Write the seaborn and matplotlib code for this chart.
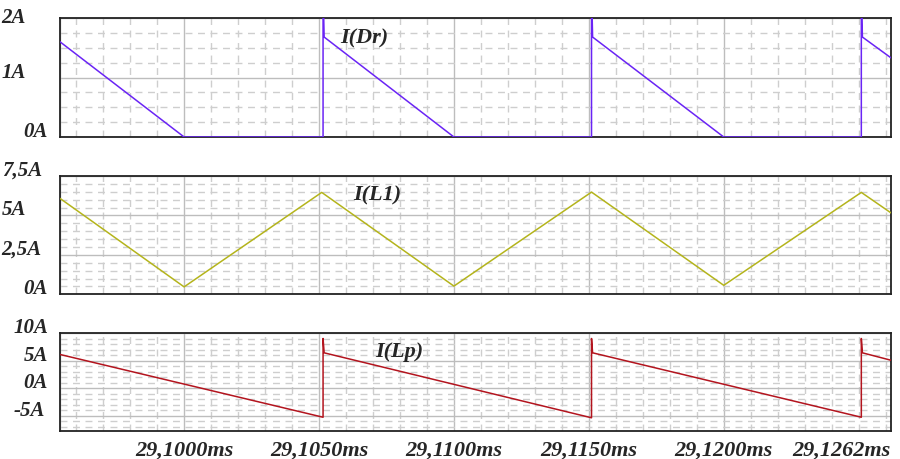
import matplotlib
matplotlib.use("Agg")
import matplotlib.pyplot as plt
from matplotlib.ticker import FixedLocator, MultipleLocator
import seaborn as sns

# ---- scope traces, breakpoints (time in ms, current in A) ----
t_dr = [29.0954, 29.1000, 29.10515, 29.10515, 29.10519, 29.1100, 29.1151, 29.1151,
        29.11514, 29.1200, 29.1251, 29.1251, 29.12514, 29.1262]
i_dr = [1.60, 0.0, 0.0, 2.5, 1.68, 0.0, 0.0, 2.5, 1.68, 0.0, 0.0, 2.5, 1.68, 1.33]

t_l1 = [29.0954, 29.1000, 29.1051, 29.1100, 29.1151, 29.1200, 29.1251, 29.1262]
i_l1 = [6.08, 0.47, 6.46, 0.52, 6.48, 0.57, 6.46, 5.16]

t_lp = [29.0954, 29.10515, 29.10515, 29.10519, 29.1151, 29.1151, 29.11514,
        29.1251, 29.1251, 29.12514, 29.1262]
i_lp = [6.1, -5.3, 9.0, 6.4, -5.4, 9.0, 6.4, -5.3, 9.0, 6.4, 5.05]

# axis ticks
x_ticks = [29.0954, 29.1000, 29.1050, 29.1100, 29.1150, 29.1200, 29.1262]
x_labels = ["", "29,1000ms", "29,1050ms", "29,1100ms", "29,1150ms", "29,1200ms", "29,1262ms"]

dr_ticks, dr_labels = [0, 1, 2], ["0A", "1A", "2A"]
l1_ticks, l1_labels = [0, 2.5, 5, 7.5], ["0A", "2,5A", "5A", "7,5A"]
lp_ticks, lp_labels = [-5, 0, 5, 10], ["-5A", "0A", "5A", "10A"]

sns.set_style("white")
plt.rcParams["font.family"] = ["Liberation Serif", "DejaVu Serif"]
plt.rcParams["font.weight"] = "bold"
plt.rcParams["font.style"] = "italic"

fig = plt.figure(figsize=(9, 4.59), dpi=100)

AX_L, AX_W = 60 / 900, 831 / 900


def style_axis(ax, ylim, yticks, ylabels, minor, label_left_px):
    ax.set_xlim(x_ticks[0], x_ticks[-1])
    ax.set_ylim(*ylim)
    ax.xaxis.set_major_locator(FixedLocator(x_ticks))
    ax.xaxis.set_minor_locator(MultipleLocator(0.001))
    ax.yaxis.set_major_locator(FixedLocator(yticks))
    ax.yaxis.set_minor_locator(MultipleLocator(minor))
    ax.set_yticklabels(ylabels)
    ax.set_axisbelow(True)
    ax.grid(which="major", color="#bdbdbd", lw=1.0, ls="-")
    ax.grid(which="minor", color="#cecece", lw=1.0, ls=(0, (5, 4)))
    ax.tick_params(which="minor", length=0)
    ax.tick_params(axis="y", which="major", direction="out", length=6, width=1,
                   color="#222222", pad=0, labelsize=15)
    # the scope puts its labels at uneven offsets from the frame
    for lab, px in zip(ax.get_yticklabels(), label_left_px):
        lab.set_ha("left")
        lab.set_va("baseline")
        lab.set_x((px - 60) / 831)
    for sp in ax.spines.values():
        sp.set_color("#222222")
        sp.set_linewidth(1.3)
    ax.set_xlabel("")
    ax.set_ylabel("")


# ---- I(Dr) ----
ax1 = fig.add_axes([AX_L, 1 - 137 / 459, AX_W, 119 / 459])
sns.lineplot(x=t_dr, y=i_dr, ax=ax1, color="#6a24f5", lw=1.1, sort=False, estimator=None, zorder=3)
style_axis(ax1, (0, 2), dr_ticks, dr_labels, 0.25, [32, 10, 10])
ax1.get_yticklabels()[-1].set_va("center")
ax1.tick_params(axis="x", length=0, labelbottom=False)
ax1.text(29.10578, 1.66, "I(Dr)", fontsize=16, va="center")

# ---- I(L1) ----
ax2 = fig.add_axes([AX_L, 1 - 294.3 / 459, AX_W, 118.3 / 459])
sns.lineplot(x=t_l1, y=i_l1, ax=ax2, color="#b4b41c", lw=1.1, sort=False, estimator=None, zorder=3)
style_axis(ax2, (0, 7.5), l1_ticks, l1_labels, 0.5, [32, 10, 10, 10])
ax2.tick_params(axis="x", length=0, labelbottom=False)
ax2.text(29.10626, 6.25, "I(L1)", fontsize=16, va="center")

# ---- I(Lp) ----
ax3 = fig.add_axes([AX_L, 1 - 431 / 459, AX_W, 98 / 459])
sns.lineplot(x=t_lp, y=i_lp, ax=ax3, color="#b3141e", lw=1.1, sort=False, estimator=None, zorder=3)
style_axis(ax3, (-7.8, 10), lp_ticks, lp_labels, 1, [22, 32, 32, 22])
ax3.set_xticklabels(x_labels)
ax3.tick_params(axis="x", which="major", direction="out", length=5, width=1,
                color="#222222", pad=2, labelsize=16)
ax3.get_xticklabels()[-1].set_ha("right")
ax3.text(29.10707, 6.5, "I(Lp)", fontsize=16, va="center")

fig.savefig("out.png", dpi=100)
